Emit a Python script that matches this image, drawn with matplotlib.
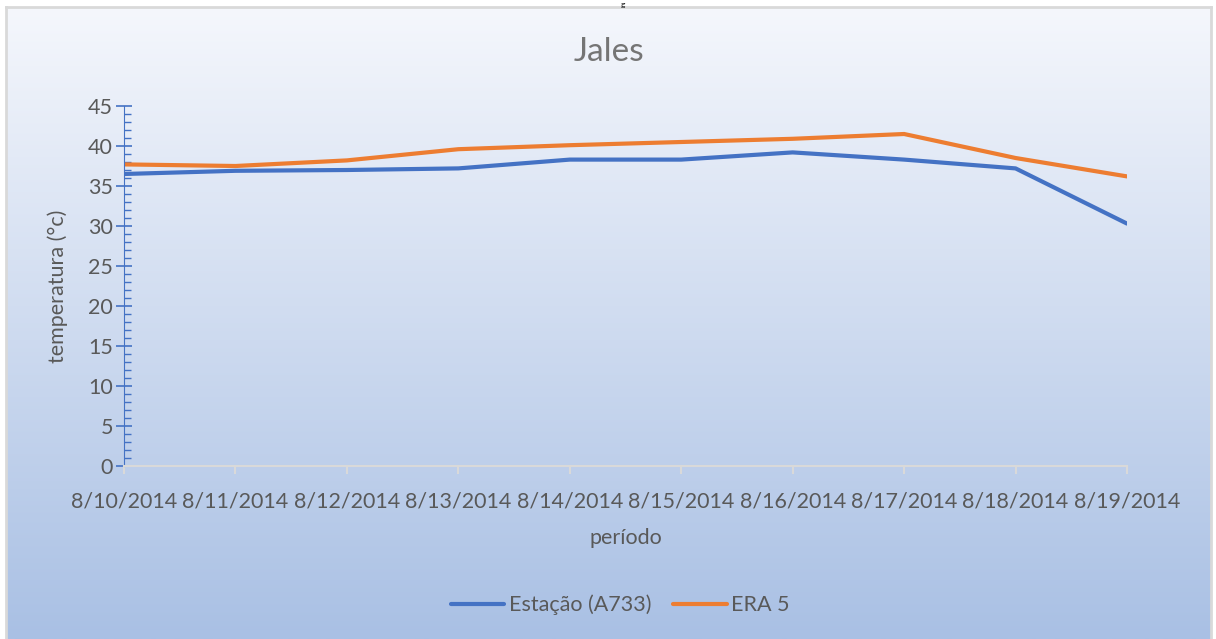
import numpy as np
import matplotlib
matplotlib.use('Agg')
import matplotlib.pyplot as plt
from matplotlib.ticker import MultipleLocator

plt.rcParams['font.family'] = ['Lato', 'DejaVu Sans']

dates = ['8/10/2014', '8/11/2014', '8/12/2014', '8/13/2014', '8/14/2014',
         '8/15/2014', '8/16/2014', '8/17/2014', '8/18/2014', '8/19/2014']
estacao = [36.5, 36.9, 37.0, 37.2, 38.3, 38.3, 39.2, 38.3, 37.2, 30.3]
era5 = [37.7, 37.5, 38.2, 39.6, 40.1, 40.5, 40.9, 41.5, 38.5, 36.2]

W, H = 1216, 639
fig = plt.figure(figsize=(W / 100, H / 100), dpi=100)
fig.patch.set_facecolor('white')

# chart area background with vertical gradient
bg = fig.add_axes([6 / W, 0, (1211 - 6) / W, (H - 7) / H], zorder=0)
top = np.array([0xf5, 0xf7, 0xfc]) / 255
bot = np.array([0xa9, 0xc0, 0xe4]) / 255
t = np.linspace(0, 1, 256)[:, None]
grad = top * (1 - t) + bot * t
bg.imshow(grad[:, None, :], aspect='auto', extent=[0, 1, 0, 1])
bg.set_xticks([])
bg.set_yticks([])
for s in bg.spines.values():
    s.set_color('#d9d9d9')
    s.set_linewidth(2)
bg.spines['bottom'].set_visible(False)

# remnant of the caption above the chart
fig.text(623 / W, 1 - 0.5 / H, 'g', ha='center', va='top', fontsize=6, color='black')

ax = fig.add_axes([124 / W, (H - 466) / H, (1127 - 124) / W, (466 - 106) / H], zorder=1)
ax.patch.set_alpha(0)

x = np.arange(len(dates))
ax.plot(x, estacao, color='#4472C4', lw=3, label='Estação (A733)', solid_capstyle='round')
ax.plot(x, era5, color='#ED7D31', lw=3, label='ERA 5', solid_capstyle='round')

ax.set_xlim(0, len(dates) - 1)
ax.set_ylim(0, 45)
ax.set_xticks(x)
ax.set_xticklabels(dates)
ax.yaxis.set_major_locator(MultipleLocator(5))
ax.yaxis.set_minor_locator(MultipleLocator(1))

for s in ['top', 'right']:
    ax.spines[s].set_visible(False)
ax.spines['left'].set_color('#4472C4')
ax.spines['bottom'].set_color('#d9d9d9')
ax.spines['bottom'].set_linewidth(1.5)

ax.tick_params(axis='y', which='major', direction='inout', length=12, width=1.2,
               color='#4472C4', labelsize=15.5, labelcolor='#595959', pad=2)
ax.tick_params(axis='y', which='minor', direction='in', length=5, width=1, color='#4472C4')
ax.tick_params(axis='x', direction='out', length=6, width=1.5, color='#d9d9d9',
               labelsize=15.5, labelcolor='#595959', pad=12)

fig.text((6 + 1211) / 2 / W, (H - 52) / H, 'Jales', ha='center', va='center',
         fontsize=24, color='#757575')
ax.set_xlabel('período', fontsize=15.5, color='#595959', labelpad=12)
ax.set_ylabel('temperatura (°c)', fontsize=15.5, color='#595959', labelpad=14)

fig.legend(loc='center', bbox_to_anchor=(620 / W, (H - 605) / H), ncol=2, frameon=False,
           fontsize=15.5, labelcolor='#595959', handlelength=2.5, handletextpad=0.2,
           columnspacing=1.0)

fig.savefig('out.png', dpi=100)
